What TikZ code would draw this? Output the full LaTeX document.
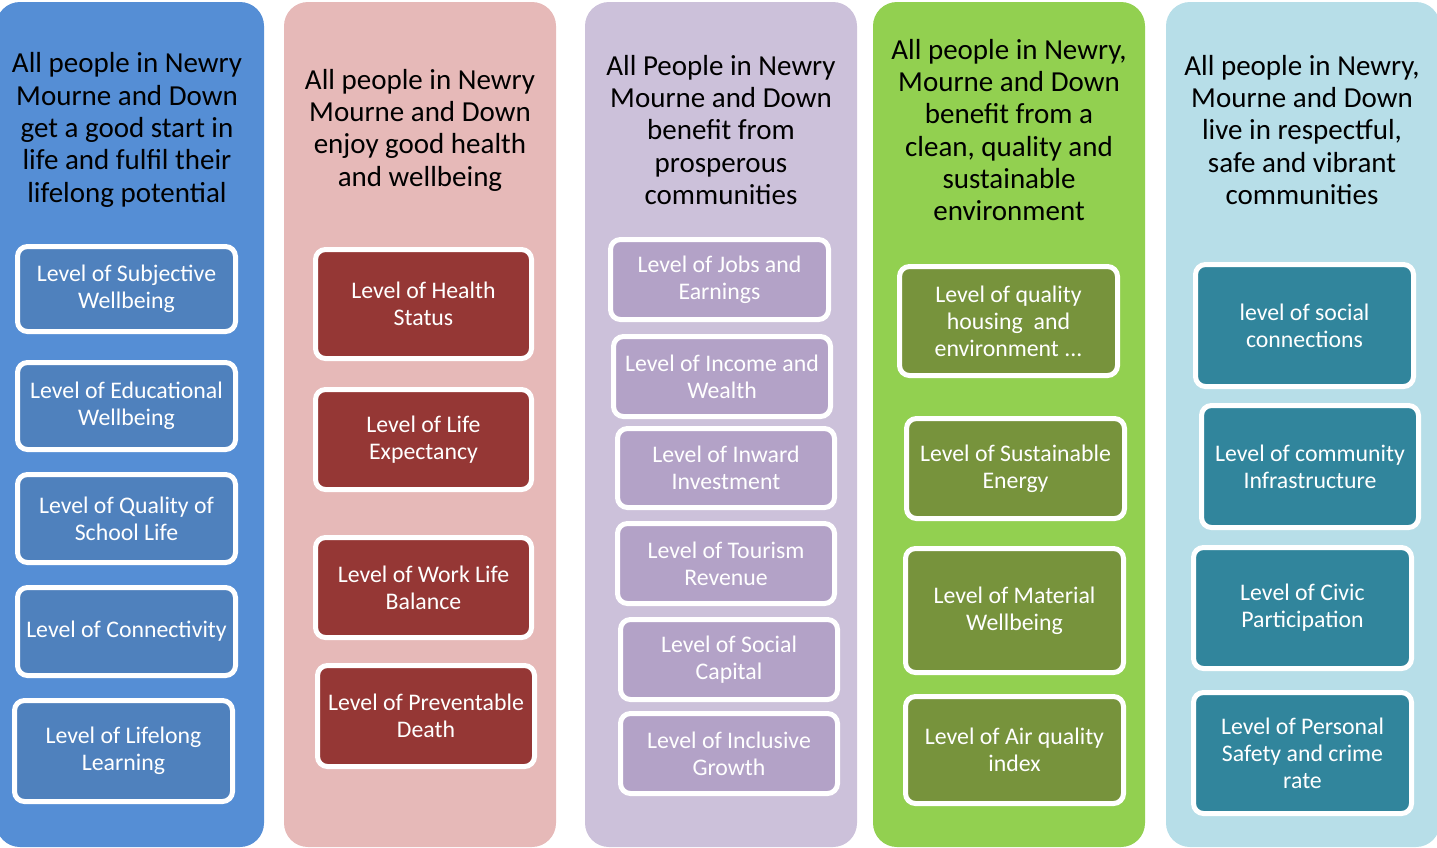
\documentclass[tikz,border=0pt]{standalone}
\usepackage{fontspec}
\setmainfont{Carlito}
\definecolor{cA}{HTML}{558ED5}\definecolor{bA}{HTML}{4F81BD}
\definecolor{cB}{HTML}{E6B9B8}\definecolor{bB}{HTML}{953735}
\definecolor{cC}{HTML}{CCC1DA}\definecolor{bC}{HTML}{B3A2C7}
\definecolor{cD}{HTML}{92D050}\definecolor{bD}{HTML}{77933C}
\definecolor{cE}{HTML}{B7DEE8}\definecolor{bE}{HTML}{31859C}
\begin{document}
\begin{tikzpicture}[x=1pt,y=-1pt,
  col/.style={rounded corners=24pt, inner sep=0pt, minimum width=272pt, minimum height=845pt},
  title/.style={align=center, text=black, inner sep=0pt, font=\fontsize{29}{32.3}\selectfont},
  box/.style={draw=white, line width=5pt, rounded corners=10pt, text=white, align=center,
    inner sep=0pt, font=\fontsize{23.8}{27}\selectfont},
  bx/.style args={#1x#2}{minimum width=#1pt-5pt, minimum height=#2pt-5pt}]
\useasboundingbox (0,0) rectangle (1437,847);
% columns
\node[col, fill=cA, minimum width=268pt] (colA) at (130,424.5) {};
\node[col, fill=cB] (colB) at (420,424.5) {};
\node[col, fill=cC] (colC) at (721,424.5) {};
\node[col, fill=cD] (colD) at (1009,424.5) {};
\node[col, fill=cE, minimum width=274pt] (colE) at (1303,424.5) {};
% titles
\node[title] (tA) at (127,130) {All people in Newry\\Mourne and Down\\get a good start in\\life and fulfil their\\lifelong potential};
\node[title] (tB) at (420,130) {All people in Newry\\Mourne and Down\\enjoy good health\\and wellbeing};
\node[title] (tC) at (721,130) {All People in Newry\\Mourne and Down\\benefit from\\prosperous\\communities};
\node[title] (tD) at (1009,130) {All people in Newry,\\Mourne and Down\\benefit from a\\clean, quality and\\sustainable\\environment};
\node[title] (tE) at (1302,130) {All people in Newry,\\Mourne and Down\\live in respectful,\\safe and vibrant\\communities};
% column A
\node[box, fill=bA, bx=223x90] (a1) at (126.5,289) {Level of Subjective\\Wellbeing};
\node[box, fill=bA, bx=223x92] (a2) at (126.5,406) {Level of Educational\\Wellbeing};
\node[box, fill=bA, bx=223x93] (a3) at (126.5,518.5) {Level of Quality of\\School Life};
\node[box, fill=bA, bx=223x93] (a4) at (126.5,631.5) {Level of Connectivity};
\node[box, fill=bA, bx=223x106] (a5) at (123.5,751) {Level of Lifelong\\Learning};
% column B
\node[box, fill=bB, bx=221x114] (b1) at (423.5,304) {Level of Health\\Status};
\node[box, fill=bB, bx=221x105] (b2) at (423.5,439.5) {Level of Life\\Expectancy};
\node[box, fill=bB, bx=221x105] (b3) at (423.5,587.5) {Level of Work Life\\Balance};
\node[box, fill=bB, bx=222x106] (b4) at (426,716) {Level of Preventable\\Death};
% column C
\node[box, fill=bC, bx=223x85] (c1) at (719.5,279.5) {Level of Jobs and\\Earnings};
\node[box, fill=bC, bx=222x85] (c2) at (722,376.5) {Level of Income and\\Wealth};
\node[box, fill=bC, bx=222x84] (c3) at (726,468) {Level of Inward\\Investment};
\node[box, fill=bC, bx=222x85] (c4) at (726,563.5) {Level of Tourism\\Revenue};
\node[box, fill=bC, bx=222x85] (c5) at (729,659.5) {Level of Social\\Capital};
\node[box, fill=bC, bx=222x85] (c6) at (729,753.5) {Level of Inclusive\\Growth};
% column D
\node[box, fill=bD, bx=223x114] (d1) at (1008.5,321) {Level of quality\\housing\ \ and\\environment ...};
\node[box, fill=bD, bx=223x105] (d2) at (1015.5,468.5) {Level of Sustainable\\Energy};
\node[box, fill=bD, bx=223x129] (d3) at (1014.5,610.5) {Level of Material\\Wellbeing};
\node[box, fill=bD, bx=223x112] (d4) at (1014.5,750) {Level of Air quality\\index};
% column E
\node[box, fill=bE, bx=223x127] (e1) at (1304.5,325.5) {level of social\\connections};
\node[box, fill=bE, bx=222x127] (e2) at (1310,466.5) {Level of community\\Infrastructure};
\node[box, fill=bE, bx=223x126] (e3) at (1302.5,608) {Level of Civic\\Participation};
\node[box, fill=bE, bx=223x126] (e4) at (1302.5,753) {Level of Personal\\Safety and crime\\rate};
\end{tikzpicture}
\end{document}
